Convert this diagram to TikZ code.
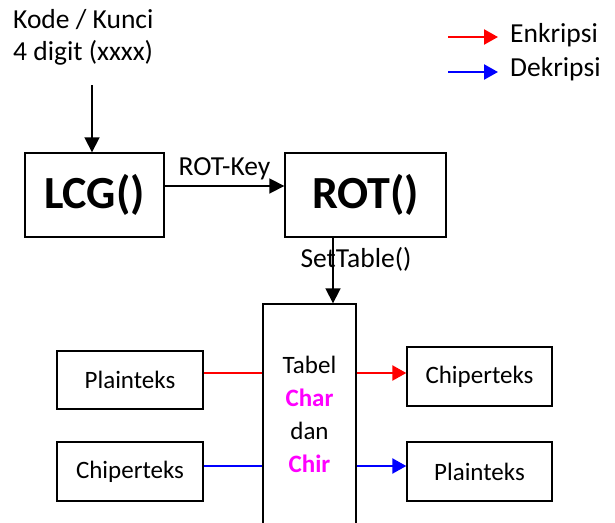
\documentclass[tikz,border=0pt]{standalone}
\usepackage{fontspec}
\setmainfont{Carlito}
\usetikzlibrary{arrows.meta}
\definecolor{mag}{RGB}{255,0,255}
\begin{document}
\begin{tikzpicture}[x=1pt,y=-1pt,
  box/.style={draw,line width=1.4pt,inner sep=0pt},
  lbl/.style={font=\fontsize{25}{30}\selectfont,inner sep=0pt},
  lblb/.style={font=\fontsize{27.5}{32}\selectfont,inner sep=0pt},
  big/.style={font=\fontsize{46}{52}\selectfont\bfseries,inner sep=0pt},
  arr/.style={line width=1.8pt,-{Triangle[length=15pt,width=15pt]}},
  carr/.style={line width=2.4pt,-{Triangle[length=14pt,width=15pt]}},
  red line/.style={draw=red,line width=2.4pt},
  blue line/.style={draw=blue,line width=2.4pt}]
\useasboundingbox (0,0) rectangle (615,522);
% key text
\node[lblb,align=left,anchor=north west] (key) at (13,9) {Kode / Kunci\\4 digit (xxxx)};
% boxes
\node[box,minimum width=139pt,minimum height=84pt] (LCG) at (94.5,195) {};
\node[big] at (LCG.center) {LCG()};
\node[box,minimum width=161pt,minimum height=84pt] (ROT) at (365.5,195) {};
\node[big] at (ROT.center) {ROT()};
\node[box,minimum width=93pt,minimum height=226pt] (tab) at (309.5,417) {};
\node[lbl,align=center,font=\fontsize{25}{33}\selectfont] (tabtext) at (309.5,414)
  {Tabel\\\textbf{\textcolor{mag}{Char}}\\dan\\\textbf{\textcolor{mag}{Chir}}};
\node[box,lbl,minimum width=146pt,minimum height=58pt] (pl1) at (130,380) {Plainteks};
\node[box,lbl,minimum width=146pt,minimum height=59pt] (ch1) at (130,471.5) {Chiperteks};
\node[box,lbl,minimum width=145pt,minimum height=59pt] (ch2) at (479.5,376.5) {Chiperteks};
\node[box,lbl,minimum width=145pt,minimum height=59pt] (pl2) at (479.5,471.5) {Plainteks};
% top arrow
\coordinate (k1) at (92,85);
\draw[arr] (k1) -- (k1 |- LCG.north);
% LCG -> ROT
\draw[arr] ([yshift=9pt]LCG.east) -- node[lblb,above=5pt] {ROT-Key} ([yshift=9pt]ROT.west);
% ROT -> table
\draw[arr] ([xshift=-32.5pt]ROT.south) -- ([xshift=-32.5pt]ROT.south |- tab.north);
\node[lblb] (st) at (356,259) {SetTable()};
% red / blue lines
\draw[red line] (pl1.east |- 0,373) -- (tab.west |- 0,373);
\draw[red line,carr,draw=red,fill=red] (tab.east |- 0,373) -- (ch2.west |- 0,373);
\draw[blue line] (ch1.east |- 0,466) -- (tab.west |- 0,466);
\draw[blue line,carr,draw=blue,fill=blue] (tab.east |- 0,466) -- (pl2.west |- 0,466);
% legend
\coordinate (e1) at (448,37);
\coordinate (e2) at (498,37);
\coordinate (d1) at (448,72);
\coordinate (d2) at (498,72);
\draw[red line,carr,draw=red,fill=red] (e1) -- (e2);
\draw[blue line,carr,draw=blue,fill=blue] (d1) -- (d2);
\node[lblb,anchor=west] (enk) at (510,35) {Enkripsi};
\node[lblb,anchor=west] (dek) at (510,69) {Dekripsi};
\end{tikzpicture}
\end{document}
